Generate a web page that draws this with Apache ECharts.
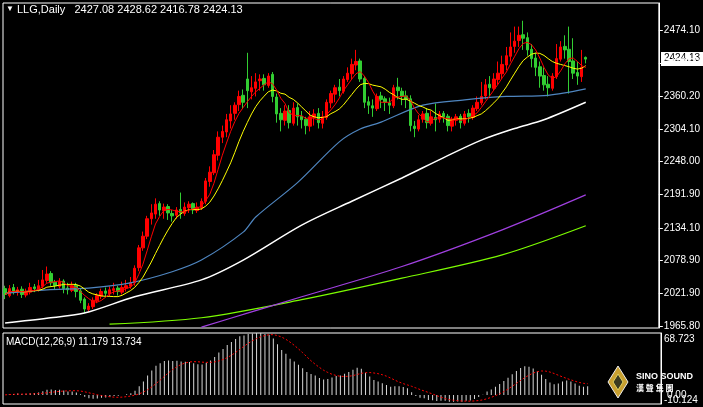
<!DOCTYPE html>
<html>
<head>
<meta charset="utf-8">
<script src="https://cdn.jsdelivr.net/npm/echarts@6/dist/echarts.min.js"></script>
<style>html,body{margin:0;padding:0;background:#000}#c{width:703px;height:407px}</style>
</head>
<body>
<div id="c"></div>
<script>
// daily candles, red = up, green = down
var opens = [2030,2018,2032,2024,2029,2019,2024,2033,2028,2034,2044,2056,2041,2034,2043,2031,2027,2036,2026,2012,1994,1999,2009,2017,2026,2021,2027,2031,2024,2031,2034,2040,2066,2100,2120,2150,2158,2176,2164,2171,2159,2156,2166,2159,2169,2176,2164,2169,2180,2214,2229,2259,2290,2299,2318,2331,2346,2362,2390,2368,2374,2387,2391,2379,2398,2359,2331,2319,2336,2314,2341,2326,2321,2309,2324,2331,2314,2324,2349,2364,2376,2369,2389,2399,2414,2421,2391,2351,2344,2339,2361,2356,2349,2344,2376,2369,2361,2356,2309,2304,2321,2331,2314,2324,2321,2331,2326,2309,2319,2326,2314,2331,2324,2339,2349,2361,2381,2374,2389,2399,2414,2429,2446,2456,2466,2461,2441,2426,2411,2396,2381,2374,2394,2424,2446,2441,2421,2401,2394,2427.08];
var closes = [2020,2030,2025,2028,2020,2025,2032,2030,2035,2045,2055,2040,2035,2042,2030,2028,2035,2025,2010,1995,2000,2010,2018,2025,2022,2028,2030,2025,2032,2035,2040,2065,2100,2120,2150,2160,2175,2165,2170,2160,2155,2165,2160,2170,2175,2165,2170,2180,2215,2230,2260,2290,2300,2320,2330,2345,2360,2350,2370,2375,2385,2390,2380,2395,2360,2330,2320,2335,2315,2340,2325,2320,2310,2325,2330,2315,2325,2350,2365,2375,2370,2390,2400,2415,2420,2390,2350,2345,2340,2360,2355,2350,2345,2375,2370,2360,2355,2310,2305,2320,2330,2315,2325,2320,2330,2325,2310,2320,2325,2315,2330,2325,2340,2350,2360,2380,2375,2390,2400,2415,2430,2445,2455,2465,2460,2440,2425,2410,2395,2380,2375,2395,2425,2445,2440,2420,2400,2395,2410,2424.13];
var lows = [2012,2015,2020,2018,2014,2015,2020,2024,2025,2030,2040,2035,2028,2030,2022,2020,2024,2015,2005,1988,1990,1995,2005,2012,2015,2016,2020,2018,2020,2025,2030,2035,2060,2095,2115,2140,2150,2155,2150,2148,2145,2150,2150,2155,2160,2158,2160,2165,2175,2205,2225,2250,2280,2290,2305,2320,2335,2340,2340,2355,2360,2370,2370,2375,2350,2315,2300,2310,2305,2310,2310,2305,2295,2300,2310,2305,2305,2320,2340,2350,2360,2365,2385,2390,2405,2385,2340,2330,2325,2335,2340,2335,2330,2340,2355,2345,2340,2300,2290,2300,2315,2305,2310,2300,2315,2315,2300,2300,2310,2305,2310,2315,2320,2335,2345,2355,2360,2370,2380,2390,2405,2420,2435,2445,2440,2430,2410,2395,2375,2370,2360,2370,2390,2420,2425,2365,2390,2380,2385,2416.78];
var highs = [2035,2036,2038,2033,2034,2030,2040,2038,2045,2062,2068,2060,2045,2048,2046,2040,2042,2040,2030,2015,2005,2015,2022,2030,2032,2034,2040,2035,2042,2045,2050,2070,2105,2128,2155,2175,2185,2180,2176,2175,2165,2170,2195,2178,2180,2178,2178,2185,2220,2240,2268,2300,2310,2330,2345,2350,2370,2372,2435,2395,2400,2398,2398,2400,2402,2365,2340,2345,2345,2350,2348,2335,2325,2335,2338,2340,2335,2355,2370,2380,2390,2395,2410,2425,2440,2425,2395,2360,2355,2365,2368,2360,2358,2380,2392,2375,2370,2362,2318,2328,2335,2340,2335,2348,2335,2335,2330,2325,2330,2330,2335,2338,2345,2360,2385,2390,2395,2400,2420,2430,2445,2470,2480,2480,2490,2470,2450,2435,2420,2410,2395,2400,2450,2455,2465,2480,2460,2420,2440,2428.62];

// long moving averages read at a few bars (index: value)
var maBlue = {0:2022,10:2028,20:2031,30:2040,40:2059,47:2079,57:2127,60:2153,70:2212,80:2282,85:2304,90:2316,100:2345,110:2354,120:2360,130:2362,139:2373};
var maWhite = {0:1971,10:1979,19:1988,31:2016,47:2045,57:2079,71:2139,83:2180,95:2220,105:2255,114:2285,122:2305,129:2320,139:2350};
var maPurple = {47:1964,59:1990,71:2016,95:2068,119:2131,139:2191};
var maGreen = {25:1969,47:1980,71:2011,95:2048,119:2088,139:2138};

var priceTicks = [1965.80,2021.90,2078.90,2134.10,2191.90,2248.00,2304.10,2360.20,2417.00,2474.10];

var nSlots = 157;
var cats = [];
for (var i = 0; i < nSlots; i++) cats.push(i);

var candles = closes.map(function (c, i) { return [opens[i], c, lows[i], highs[i]]; });

function sparse(obj) {
    var out = [];
    for (var i = 0; i < closes.length; i++) out.push(obj[i] !== undefined ? obj[i] : null);
    return out;
}
function sma(arr, n) {
    return arr.map(function (v, i) {
        var s = 0, k = 0;
        for (var j = Math.max(0, i - n + 1); j <= i; j++) { s += arr[j]; k++; }
        return +(s / k).toFixed(2);
    });
}
function ema(arr, n) {
    var a = 2 / (n + 1), out = [], prev = arr[0];
    arr.forEach(function (v) { prev = prev + a * (v - prev); out.push(prev); });
    return out;
}
var e12 = ema(closes, 12), e26 = ema(closes, 26);
var macd = e12.map(function (v, i) { return +(v - e26[i]).toFixed(3); });
var signal = sma(macd, 9);

var chart = echarts.init(document.getElementById('c'));
var font = 'Liberation Sans';
var lineBase = { type: 'line', symbol: 'none', xAxisIndex: 0, yAxisIndex: 0, silent: true, animation: false };
function ln(data, color, extra, smooth) {
    return Object.assign({}, lineBase, { data: data, connectNulls: true, smooth: smooth || false,
        lineStyle: Object.assign({ color: color, width: 1 }, extra || {}) });
}

chart.setOption({
    backgroundColor: '#000',
    animation: false,
    grid: [
        { left: 3, right: 42, top: 3, bottom: 79, show: true, borderColor: '#fff', borderWidth: 1 },
        { left: 3, right: 42, top: 333, bottom: 3, show: true, borderColor: '#fff', borderWidth: 1 }
    ],
    xAxis: [
        { type: 'category', data: cats, gridIndex: 0, show: false, boundaryGap: true },
        { type: 'category', data: cats, gridIndex: 1, show: false, boundaryGap: true }
    ],
    yAxis: [
        {
            gridIndex: 0, position: 'right', min: 1962.4, max: 2520.5, scale: true,
            axisLine: { show: true, lineStyle: { color: '#fff' } },
            axisTick: { show: true, customValues: priceTicks, length: 4, lineStyle: { color: '#fff' } },
            axisLabel: { customValues: priceTicks, color: '#fff', fontSize: 10, fontFamily: font, margin: 5,
                formatter: function (v) { return v.toFixed(2); } },
            splitLine: { show: false }
        },
        {
            gridIndex: 1, position: 'right', min: -10.124, max: 68.723,
            axisLine: { show: true, lineStyle: { color: '#fff' } },
            axisTick: { show: false }, axisLabel: { show: false }, splitLine: { show: false }
        }
    ],
    series: [
        ln(sparse(maGreen), '#7cfc00', { width: 1.2 }, 0.3),
        ln(sparse(maPurple), '#a040e0', { width: 1.2 }, 0.3),
        ln(sparse(maWhite), '#ffffff', { width: 1.5 }, 0.3),
        ln(sparse(maBlue), '#4f86c0', { width: 1.2 }, 0.3),
        {
            type: 'candlestick', data: candles, barWidth: 3, silent: true,
            itemStyle: { color: '#ff0000', color0: '#32cd32', borderColor: '#ff0000', borderColor0: '#32cd32', borderWidth: 1 }
        },
        ln(sma(closes, 10), '#ffff00'),
        ln(sma(closes, 5), '#ff0000'),
        {
            type: 'bar', xAxisIndex: 1, yAxisIndex: 1, data: macd, barWidth: 1, silent: true,
            itemStyle: { color: '#d8d8d8' }
        },
        Object.assign({}, lineBase, { xAxisIndex: 1, yAxisIndex: 1, data: signal,
            lineStyle: { color: '#ff0000', width: 1, type: [2, 2] } })
    ],
    graphic: [
        { type: 'text', left: 6, top: 5, style: { text: '▼', fill: '#fff', font: '8px ' + font } },
        { type: 'text', left: 17, top: 4, style: { text: 'LLG,Daily   2427.08 2428.62 2416.78 2424.13', fill: '#fff', font: '11px ' + font } },
        { type: 'text', left: 6, top: 337, style: { text: 'MACD(12,26,9) 11.179 13.734', fill: '#fff', font: '10px ' + font } },
        { type: 'text', left: 664, top: 334, style: { text: '68.723', fill: '#fff', font: '10px ' + font } },
        { type: 'text', left: 667, top: 390, style: { text: '0.00', fill: '#fff', font: '10px ' + font } },
        { type: 'text', left: 664, top: 395, style: { text: '-10.124', fill: '#fff', font: '10px ' + font } },
        { type: 'polygon', shape: { points: [[618, 366], [628, 382], [618, 398], [608, 382]] }, style: { fill: '#c8a030', stroke: '#eee', lineWidth: 1 } },
        { type: 'polygon', shape: { points: [[618, 374], [623, 382], [618, 390], [613, 382]] }, style: { fill: '#3a3a20', stroke: '#e0d060', lineWidth: 1 } },
        { type: 'text', left: 636, top: 372, style: { text: 'SINO SOUND', fill: '#fff', font: 'bold 9px ' + font } },
        { type: 'text', left: 636, top: 384, style: { text: '漢 聲 集 團', fill: '#fff', font: 'bold 8px "Noto Sans CJK TC"' } }
    ]
});

// current price box on the right axis
var py = chart.convertToPixel({ yAxisIndex: 0 }, closes[closes.length - 1]);
chart.setOption({ graphic: chart.getOption().graphic[0].elements.concat([
    { type: 'rect', shape: { x: 661, y: py - 7, width: 42, height: 14 }, style: { fill: '#fff' } },
    { type: 'text', x: 664, y: py - 6, style: { text: closes[closes.length - 1].toFixed(2), fill: '#000', font: '10px ' + font } }
]) }, { replaceMerge: ['graphic'] });
</script>
</body>
</html>
